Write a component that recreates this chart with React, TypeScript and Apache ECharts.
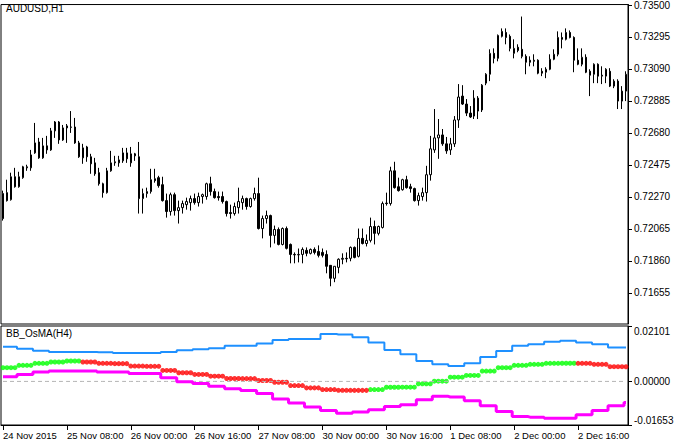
import React, { useEffect, useRef } from 'react';
import * as echarts from 'echarts';

// ---- x-axis tick labels (every 16 H1 bars, starting at bar 0 = 24 Nov 16:00) ----
const xTickLabels = ['24 Nov 2015', '25 Nov 08:00', '26 Nov 00:00', '26 Nov 16:00', '27 Nov 08:00', '30 Nov 00:00', '30 Nov 16:00', '1 Dec 08:00', '2 Dec 00:00', '2 Dec 16:00'];

// ---- price axis ticks ----
const priceTicks = [0.71655, 0.7186, 0.72065, 0.7227, 0.72475, 0.7268, 0.72885, 0.7309, 0.73295, 0.735];
const oscTicks = [-0.01653, 0, 0.02101];

// ---- AUDUSD H1 candles ----
const barOpen = [
  0.72291, 0.72297, 0.72252, 0.72399, 0.72335, 0.72393, 0.72456, 0.72456, 0.72552, 0.72622,
  0.7252, 0.72597, 0.72571, 0.72693, 0.7275, 0.72635, 0.72725, 0.72718, 0.72718, 0.72616,
  0.7252, 0.7259, 0.72527, 0.72488, 0.72425, 0.72354, 0.72297, 0.72437, 0.72488, 0.72488,
  0.72501, 0.72552, 0.72488, 0.72546, 0.72527, 0.72259, 0.72291, 0.72304, 0.72386, 0.72393,
  0.72348, 0.72246, 0.72176, 0.72284, 0.72182, 0.72201, 0.7222, 0.72233, 0.72259, 0.72233,
  0.72272, 0.72272, 0.72354, 0.72304, 0.72272, 0.72272, 0.7224, 0.72169, 0.72163, 0.72201,
  0.72233, 0.72259, 0.72208, 0.72259, 0.72291, 0.72067, 0.72131, 0.7215, 0.72023, 0.72061,
  0.71965, 0.72067, 0.71965, 0.71901, 0.71898, 0.71901, 0.71927, 0.71908, 0.71933, 0.7192,
  0.71914, 0.71901, 0.71831, 0.71748, 0.71818, 0.7187, 0.71876, 0.71876, 0.71946, 0.71889,
  0.72004, 0.71971, 0.71991, 0.7208, 0.72036, 0.72074, 0.7223, 0.72227, 0.72437, 0.72335,
  0.72316, 0.7238, 0.72335, 0.72323, 0.72246, 0.72272, 0.72297, 0.72412, 0.72571, 0.72648,
  0.72667, 0.7261, 0.72571, 0.7261, 0.72763, 0.72916, 0.72865, 0.72807, 0.72788, 0.72903,
  0.72827, 0.72999, 0.73056, 0.7319, 0.73158, 0.73299, 0.73324, 0.73299, 0.7319, 0.73229,
  0.73216, 0.73171, 0.73146, 0.73139, 0.73146, 0.73075, 0.73069, 0.73088, 0.73152, 0.73184,
  0.73292, 0.7328, 0.73324, 0.73292, 0.73146, 0.7312, 0.73165, 0.73075, 0.73056, 0.7312,
  0.73044, 0.73044, 0.73075, 0.7298, 0.73012, 0.72884, 0.72948,
];
const barClose = [
  0.72131, 0.72246, 0.72399, 0.72335, 0.72399, 0.72463, 0.72463, 0.72539, 0.72616, 0.7252,
  0.72597, 0.72571, 0.72693, 0.7275, 0.72635, 0.72712, 0.72712, 0.72716, 0.72616, 0.72527,
  0.72584, 0.72527, 0.72482, 0.72418, 0.72354, 0.72297, 0.72437, 0.72488, 0.72495, 0.72507,
  0.72552, 0.72514, 0.72546, 0.72533, 0.72259, 0.72291, 0.72304, 0.7238, 0.72374, 0.72342,
  0.72246, 0.72176, 0.72284, 0.72182, 0.72201, 0.72227, 0.7224, 0.72259, 0.72233, 0.72272,
  0.72284, 0.72354, 0.72304, 0.72265, 0.72265, 0.7224, 0.72163, 0.72163, 0.72208, 0.7224,
  0.72259, 0.72208, 0.72259, 0.72291, 0.72067, 0.72131, 0.7215, 0.72023, 0.72061, 0.71965,
  0.72067, 0.7194, 0.71901, 0.71898, 0.71901, 0.71933, 0.71908, 0.71933, 0.71914, 0.71895,
  0.71895, 0.71825, 0.71748, 0.71825, 0.7187, 0.71876, 0.71873, 0.71946, 0.71882, 0.72004,
  0.71971, 0.71991, 0.7208, 0.72036, 0.7208, 0.72227, 0.72227, 0.72437, 0.72329, 0.7231,
  0.7238, 0.72329, 0.72323, 0.72246, 0.72278, 0.72297, 0.72412, 0.72578, 0.72648, 0.72667,
  0.7261, 0.72565, 0.7261, 0.72763, 0.7291, 0.72865, 0.72807, 0.72782, 0.72903, 0.7282,
  0.72986, 0.73056, 0.7319, 0.73158, 0.73305, 0.73331, 0.73292, 0.73222, 0.73222, 0.73209,
  0.73171, 0.73133, 0.73133, 0.73146, 0.73063, 0.73063, 0.73088, 0.73152, 0.73184, 0.73292,
  0.7328, 0.73324, 0.73292, 0.73146, 0.7312, 0.73165, 0.73069, 0.7305, 0.7312, 0.73044,
  0.7305, 0.73088, 0.7298, 0.73012, 0.72884, 0.72948, 0.73056,
];
const barLow = [
  0.72118, 0.7224, 0.72246, 0.72329, 0.72329, 0.72386, 0.72437, 0.72437, 0.72546, 0.72514,
  0.72514, 0.72546, 0.72565, 0.72648, 0.7261, 0.72629, 0.72616, 0.7268, 0.7261, 0.7252,
  0.72482, 0.72495, 0.72418, 0.72405, 0.72342, 0.72265, 0.72291, 0.72431, 0.72469, 0.72463,
  0.72488, 0.72488, 0.72463, 0.72501, 0.72163, 0.72163, 0.72265, 0.72291, 0.72361, 0.72329,
  0.7224, 0.72137, 0.7215, 0.7215, 0.72099, 0.72163, 0.72188, 0.72182, 0.7222, 0.72208,
  0.72227, 0.72252, 0.72278, 0.72259, 0.72246, 0.72227, 0.72144, 0.72131, 0.7215, 0.72163,
  0.72188, 0.72188, 0.72201, 0.72246, 0.72061, 0.72004, 0.72099, 0.71946, 0.71971, 0.71959,
  0.71959, 0.71933, 0.71844, 0.71844, 0.7185, 0.71844, 0.71889, 0.71901, 0.71901, 0.71882,
  0.71882, 0.7178, 0.71697, 0.71723, 0.7178, 0.71838, 0.7185, 0.71857, 0.71876, 0.71882,
  0.71965, 0.71952, 0.71978, 0.71965, 0.72023, 0.72067, 0.72214, 0.72214, 0.72323, 0.72304,
  0.7231, 0.72323, 0.72297, 0.7224, 0.72214, 0.72246, 0.7224, 0.72374, 0.72552, 0.72514,
  0.72597, 0.72546, 0.72539, 0.7259, 0.72712, 0.72859, 0.72788, 0.72776, 0.72769, 0.72769,
  0.72814, 0.72986, 0.73012, 0.73126, 0.73139, 0.73292, 0.73248, 0.73203, 0.73158, 0.73197,
  0.73158, 0.73056, 0.73107, 0.73107, 0.73056, 0.73044, 0.73031, 0.73082, 0.73146, 0.73171,
  0.73222, 0.73273, 0.73286, 0.73069, 0.73114, 0.73107, 0.73063, 0.72916, 0.72999, 0.72999,
  0.72993, 0.72999, 0.72974, 0.72967, 0.72833, 0.72833, 0.72884,
];
const barHigh = [
  0.7231, 0.7238, 0.72425, 0.72456, 0.72431, 0.72469, 0.72476, 0.72571, 0.72744, 0.72648,
  0.72648, 0.72661, 0.72712, 0.72756, 0.72756, 0.72731, 0.72737, 0.7282, 0.72776, 0.72629,
  0.7261, 0.72597, 0.72546, 0.7252, 0.72456, 0.72361, 0.72456, 0.72565, 0.72533, 0.72533,
  0.72584, 0.72584, 0.7259, 0.72552, 0.72622, 0.72323, 0.72329, 0.7245, 0.7245, 0.72405,
  0.72399, 0.72291, 0.72297, 0.72297, 0.72246, 0.72246, 0.72265, 0.72278, 0.72291, 0.72297,
  0.72291, 0.72361, 0.72399, 0.72323, 0.72304, 0.72304, 0.72246, 0.7222, 0.72233, 0.72329,
  0.72278, 0.72265, 0.72265, 0.72329, 0.72393, 0.7215, 0.72182, 0.72156, 0.72086, 0.72074,
  0.72074, 0.7208, 0.71971, 0.71914, 0.71939, 0.71946, 0.71946, 0.71939, 0.71946, 0.71959,
  0.71939, 0.71927, 0.71831, 0.71825, 0.71876, 0.71908, 0.71914, 0.71952, 0.71952, 0.72067,
  0.72067, 0.72029, 0.72137, 0.72118, 0.72086, 0.7224, 0.72297, 0.72463, 0.72495, 0.72393,
  0.72386, 0.72405, 0.72354, 0.72329, 0.72297, 0.72329, 0.72469, 0.72661, 0.72833, 0.72769,
  0.72705, 0.72654, 0.72648, 0.72788, 0.72993, 0.72986, 0.72897, 0.72852, 0.72954, 0.72916,
  0.72993, 0.73063, 0.73216, 0.73222, 0.73311, 0.7335, 0.7335, 0.73311, 0.7328, 0.73248,
  0.73426, 0.73184, 0.73171, 0.73184, 0.73152, 0.73095, 0.73101, 0.73184, 0.73216, 0.73331,
  0.73324, 0.7335, 0.73337, 0.73299, 0.73222, 0.73222, 0.73184, 0.73088, 0.73126, 0.73126,
  0.73107, 0.73095, 0.73095, 0.73024, 0.73024, 0.7298, 0.73075,
];

// ---- BB_OsMA(H4): one value per H4 bar (covers 4 H1 bars) ----
const upperBand = [
  0.0131, 0.01241, 0.01164, 0.01118, 0.01118, 0.01118, 0.01107, 0.0108, 0.0108, 0.0108,
  0.01118, 0.01183, 0.01222, 0.0126, 0.01348, 0.01348, 0.0144, 0.01566, 0.01605, 0.01605,
  0.01796, 0.01777, 0.0167, 0.01478, 0.01195, 0.0103, 0.00774, 0.00647, 0.00582, 0.00686,
  0.00927, 0.01157, 0.01348, 0.01413, 0.01501, 0.0154, 0.01478, 0.01413, 0.01287, 0.01287,
];
const lowerBand = [
  0.00176, 0.00264, 0.00352, 0.00391, 0.00391, 0.00391, 0.00352, 0.00352, 0.00303, 0.00303,
  0.00138, -0.00015, -0.0008, -0.00184, -0.00283, -0.00349, -0.00463, -0.00666, -0.0082, -0.00973,
  -0.01103, -0.01203, -0.01164, -0.01076, -0.0095, -0.00885, -0.00693, -0.00567, -0.0059, -0.00732,
  -0.00923, -0.01141, -0.01333, -0.01356, -0.01394, -0.01394, -0.01268, -0.01103, -0.00923, -0.00797,
];
const osma = [
  0.00521, 0.00609, 0.00686, 0.00735, 0.00774, 0.00735, 0.00686, 0.00674, 0.00582, 0.00571,
  0.00417, 0.00329, 0.00264, 0.00199, 0.00111, 0.00105, 0.00034, -0.00031, -0.00157, -0.00245,
  -0.0031, -0.00337, -0.0034, -0.0031, -0.00222, -0.0022, -0.00092, 0.00008, 0.00161, 0.00226,
  0.00391, 0.00521, 0.00609, 0.00647, 0.00686, 0.0069, 0.00686, 0.00647, 0.00559, 0.00555,
];
const osmaRising = [
  1, 1, 1, 1, 1, 0, 0, 0, 0, 0,
  0, 0, 0, 0, 0, 0, 0, 0, 0, 0,
  0, 0, 0, 1, 1, 1, 1, 1, 1, 1,
  1, 1, 1, 1, 1, 1, 0, 0, 0, 0,
];
const zeroLevel = 0;

const FONT = 'Liberation Sans';

export default function App() {
  const ref = useRef<HTMLDivElement>(null);
  useEffect(() => {
    const chart = echarts.init(ref.current!, null, { renderer: 'svg' });
    const cats = barOpen.map((_, i) => String(i));
    const candles = barOpen.map((o, i) => [o, barClose[i], barLow[i], barHigh[i]]);
    const blk = (i: number) => Math.floor(i / 4);
    const upper = cats.map((_, i) => upperBand[blk(i)]);
    const lower = cats.map((_, i) => lowerBand[blk(i)]);
    const zeros = cats.map(() => zeroLevel);
    const green: number[][] = [];
    const red: number[][] = [];
    cats.forEach((_, i) => {
      const b = blk(i);
      (osmaRising[b] ? green : red).push([i, osma[b]]);
    });
    const near = (a: number, b: number) => Math.abs(a - b) < 1e-7;

    chart.setOption({
      animation: false,
      backgroundColor: '#fff',
      textStyle: { fontFamily: FONT },
      grid: [
        { left: 1, right: 52, top: 3, height: 321, show: true, borderColor: '#000', borderWidth: 1, backgroundColor: '#fff' },
        { left: 1, right: 52, top: 326, height: 99, show: true, borderColor: '#000', borderWidth: 1, backgroundColor: '#fff' },
      ],
      xAxis: [
        {
          type: 'category', gridIndex: 0, data: cats, boundaryGap: true,
          axisLine: { show: false, onZero: false }, axisTick: { show: false }, axisLabel: { show: false }, splitLine: { show: false },
        },
        {
          type: 'category', gridIndex: 1, data: cats, boundaryGap: true, position: 'bottom',
          axisLine: { show: true, onZero: false, lineStyle: { color: '#000', width: 1 } },
          axisTick: { show: true, alignWithLabel: true, interval: (i: number) => i % 16 === 0, length: 5, lineStyle: { color: '#000' } },
          axisLabel: {
            interval: (i: number) => i % 16 === 0,
            formatter: (_v: string, i: number) => xTickLabels[i / 16] ?? '',
            align: 'left', margin: 5, color: '#000', fontSize: 9.5, fontFamily: FONT,
          },
          splitLine: { show: false },
        },
      ],
      yAxis: [
        {
          type: 'value', gridIndex: 0, position: 'right', min: 0.71455, max: 0.73503, scale: true,
          axisLine: { show: true, onZero: false, lineStyle: { color: '#000' } },
          axisTick: { show: true, length: 4, customValues: priceTicks, lineStyle: { color: '#000' } },
          axisLabel: { customValues: priceTicks, formatter: (v: number) => v.toFixed(5), color: '#000', fontSize: 10, fontFamily: FONT, margin: 6 },
          splitLine: { show: false },
        },
        {
          type: 'value', gridIndex: 1, position: 'right', min: -0.01653, max: 0.02101,
          axisLine: { show: true, onZero: false, lineStyle: { color: '#000' } },
          axisTick: { show: true, length: 4, customValues: oscTicks, lineStyle: { color: '#000' } },
          axisLabel: {
            customValues: oscTicks, showMinLabel: true, showMaxLabel: true,
            color: '#000', fontSize: 10, fontFamily: FONT, margin: 6,
            formatter: (v: number) => {
              if (near(v, 0.02101)) return '{top|0.02101}';
              if (near(v, -0.01653)) return '{bot|-0.01653}';
              return (Math.abs(v) < 1e-9 ? 0 : v).toFixed(5);
            },
            rich: {
              top: { padding: [10, 0, 0, 0], fontSize: 10, fontFamily: FONT, color: '#000' },
              bot: { padding: [0, 0, 10, 0], fontSize: 10, fontFamily: FONT, color: '#000' },
            },
          },
          splitLine: { show: false },
        },
      ],
      graphic: [
        { type: 'text', left: 6, top: 3, style: { text: 'AUDUSD,H1', fill: '#000', fontSize: 10, fontFamily: FONT } },
        { type: 'text', left: 6, top: 328, style: { text: 'BB_OsMA(H4)', fill: '#000', fontSize: 10, fontFamily: FONT } },
      ],
      series: [
        {
          type: 'candlestick', xAxisIndex: 0, yAxisIndex: 0, data: candles, barWidth: 2,
          itemStyle: { color: '#fff', color0: '#000', borderColor: '#000', borderColor0: '#000', borderWidth: 1 },
        },
        {
          type: 'line', xAxisIndex: 1, yAxisIndex: 1, data: zeros, showSymbol: false, silent: true,
          lineStyle: { color: '#B4B4B4', width: 1, type: [4, 3] },
        },
        {
          type: 'line', xAxisIndex: 1, yAxisIndex: 1, data: upper, step: 'middle', showSymbol: false,
          lineStyle: { color: '#1E90FF', width: 2 },
        },
        {
          type: 'line', xAxisIndex: 1, yAxisIndex: 1, data: lower, step: 'middle', showSymbol: false,
          lineStyle: { color: '#FF00FF', width: 3 },
        },
        {
          type: 'scatter', xAxisIndex: 1, yAxisIndex: 1, data: green, symbol: 'circle', symbolSize: 5,
          itemStyle: { color: '#00FF00' },
        },
        {
          type: 'scatter', xAxisIndex: 1, yAxisIndex: 1, data: red, symbol: 'circle', symbolSize: 5,
          itemStyle: { color: '#FF0000' },
        },
      ],
    });
    return () => chart.dispose();
  }, []);
  return <div ref={ref} style={{ position: 'fixed', left: 0, top: 0, width: 680, height: 446 }} />;
}
